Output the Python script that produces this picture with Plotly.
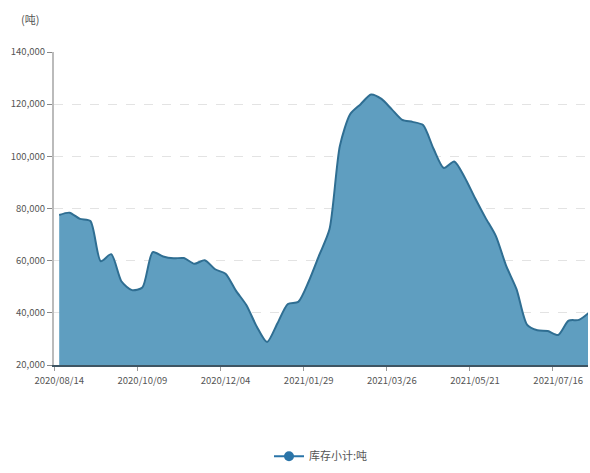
import plotly.graph_objects as go

dates = [
    "2020/08/14", "2020/08/21", "2020/08/28", "2020/09/04", "2020/09/11", "2020/09/18",
    "2020/09/25", "2020/10/02", "2020/10/09", "2020/10/16", "2020/10/23", "2020/10/30",
    "2020/11/06", "2020/11/13", "2020/11/20", "2020/11/27", "2020/12/04", "2020/12/11",
    "2020/12/18", "2020/12/25", "2021/01/01", "2021/01/08", "2021/01/15", "2021/01/22",
    "2021/01/29", "2021/02/05", "2021/02/12", "2021/02/19", "2021/02/26", "2021/03/05",
    "2021/03/12", "2021/03/19", "2021/03/26", "2021/04/02", "2021/04/09", "2021/04/16",
    "2021/04/23", "2021/04/30", "2021/05/07", "2021/05/14", "2021/05/21", "2021/05/28",
    "2021/06/04", "2021/06/11", "2021/06/18", "2021/06/25", "2021/07/02", "2021/07/09",
    "2021/07/16", "2021/07/23", "2021/07/30", "2021/08/06",
]

inventory = [
    77500, 78400, 76000, 75200, 59800, 62500, 52000, 48700, 49700, 63300,
    61600, 60900, 61000, 58800, 60200, 56700, 55000, 48500, 43000, 34800,
    28800, 36000, 43400, 44200, 52000, 62000, 72000, 104000, 116200, 120000,
    123700, 122000, 118000, 114000, 113200, 112000, 103000, 95500, 98000, 92000,
    84000, 76500, 69500, 58000, 49000, 35500, 33300, 33000, 31500, 37000,
    37300, 40200,
]

series_name = "库存小计:吨"
unit_label = "(吨)"

fill_color = "#5f9ec0"
line_color = "#2f6e92"

fig = go.Figure()
fig.add_trace(go.Scatter(
    x=dates, y=inventory, mode="lines",
    line=dict(color=line_color, width=2, shape="spline", smoothing=0.7),
    fill="tozeroy", fillcolor=fill_color,
    showlegend=False, hoverinfo="x+y",
))
fig.add_trace(go.Scatter(
    x=[None], y=[None], mode="lines+markers", name=series_name,
    line=dict(color="#2a74a8", width=2),
    marker=dict(color="#2a74a8", size=10),
))

font_fam = "Noto Sans CJK SC, Noto Sans, sans-serif"
fig.update_layout(
    width=590, height=473,
    margin=dict(l=54, r=2, t=52, b=105),
    plot_bgcolor="white", paper_bgcolor="white",
    font=dict(family=font_fam, size=10, color="#555555"),
    xaxis=dict(
        type="category", range=[-0.5, 50.87], dtick=8, tickson="boundaries",
        tickangle=0, automargin=False, ticklabelstandoff=6,
        ticks="outside", ticklen=4, tickcolor="#999999",
        showline=True, linecolor="#3e5563", linewidth=2,
        showgrid=False, tickfont=dict(size=9.5, color="#555555"),
    ),
    yaxis=dict(
        range=[20000, 140000], dtick=20000, tickformat=",", automargin=False,
        ticks="outside", ticklen=5, tickcolor="#888888",
        showline=True, linecolor="#bbbbbb", linewidth=2,
        showgrid=True, gridcolor="#e3e3e3", griddash="dash",
        zeroline=False, tickfont=dict(size=9.5, color="#555555"),
    ),
    legend=dict(orientation="h", x=0.5, xanchor="center", y=-0.245, yanchor="top",
                font=dict(size=11, color="#555555")),
    annotations=[dict(text=unit_label, xref="paper", yref="paper", x=-0.045, y=1.075,
                      xanchor="center", yanchor="bottom", showarrow=False,
                      font=dict(size=11, color="#555555"))],
)

fig.write_html(
    "out.html",
    config={"displayModeBar": False},
    post_script="document.body.style.margin='0';document.documentElement.style.overflow='hidden';document.body.style.overflow='hidden';",
)
